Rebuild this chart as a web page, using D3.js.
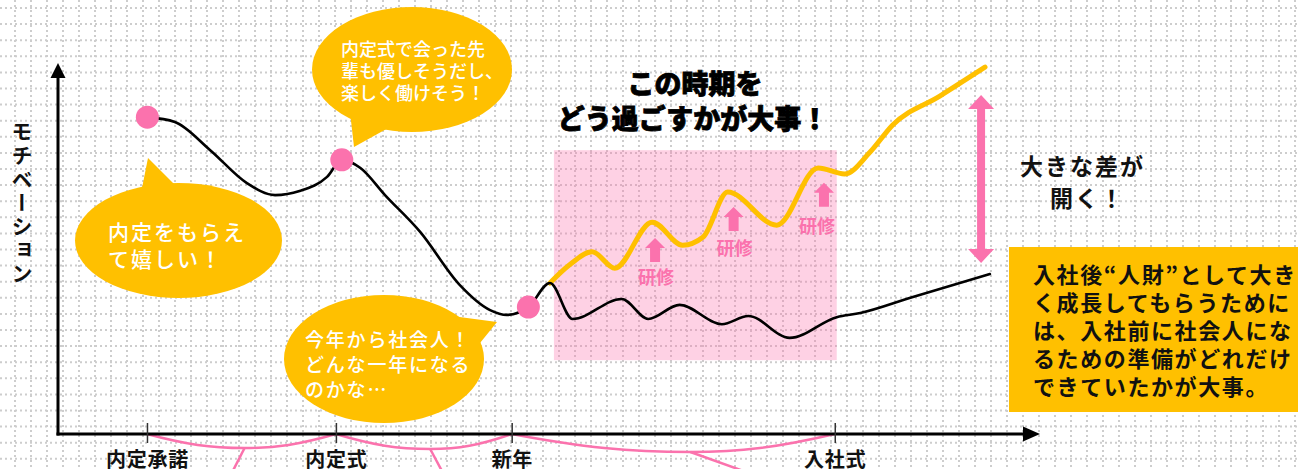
<!DOCTYPE html>
<html><head><meta charset="utf-8">
<script src="https://cdn.jsdelivr.net/npm/d3@7"></script>
<style>
html,body{margin:0;padding:0;background:#fff;}
svg{display:block;font-family:"Noto Sans CJK JP","Noto Sans",sans-serif;}
</style></head><body>
<svg id="c" width="1298" height="469"></svg>
<script>
// ---------- data ----------
const phaseLabels = ["内定承諾", "内定式", "新年", "入社式"];
const phaseTicks  = [9.06, 28.3, 46.2, 79.1];

// motivation without preparation (black)
const baseX = [9.1, 11.9, 15.5, 19.2, 22.1, 24.6, 27.4, 28.9, 30.8, 33.3, 36.9, 40.9, 44.0, 45.7, 47.9, 50.1, 52.4, 57.4, 60.1, 63.3, 67.6, 70.3, 74.5, 79.3, 81.7, 86.8, 94.9];
const baseY = [85.4, 84.1, 76.5, 67.7, 64.4, 65.5, 69.3, 73.9, 71.7, 64.4, 54.4, 40.2, 33.4, 32.1, 34.2, 40.7, 31.0, 36.4, 31.0, 34.8, 29.6, 31.8, 25.9, 31.5, 32.6, 36.7, 43.1];
const milestoneIdx = [0, 7, 14];

// motivation with training (yellow)
const growthX = [50.1, 52.1, 54.4, 56.7, 60.5, 63.6, 65.7, 68.2, 73.2, 77.4, 80.1, 82.7, 85.0, 89.8, 94.4];
const growthY = [40.7, 45.6, 49.1, 44.7, 57.1, 50.9, 53.1, 65.2, 56.3, 71.7, 70.1, 76.0, 83.3, 91.1, 98.9];

const trainingX = [60.8, 68.8, 78.0];
const trainingY = [52.8, 61.2, 67.7];
const trainingLabel = "研修";

const focusPeriod = [50.5, 79.3];
const focusRange  = [19.9, 76.5];
const gapX = 94.0;
const gapRange = [46.1, 91.4];

const braceLowX  = [19.0, 37.9, 64.4];
const braceLeadX = [17.8, 39.1, 69.8];

const yAxisTitle = "モチベーション";
const titleLines = ["この時期を", "どう過ごすかが大事！"];
const gapLines = ["大きな差が", "開く！"];
const boxLines = ["入社後“人財”として大き", "く成長してもらうために", "は、入社前に社会人にな", "るための準備がどれだけ", "できていたかが大事。"];
const bubble1 = ["内定をもらえ", "て嬉しい！"];
const bubble2 = ["内定式で会った先", "輩も優しそうだし、", "楽しく働けそう！"];
const bubble3 = ["今年から社会人！", "どんな一年になる", "のかな…"];

// ---------- setup ----------
const W = 1298, H = 469;
const PINK = "#fb72ad", YEL = "#ffc000";
const svg = d3.select("#c");
const x = d3.scaleLinear().domain([0, 100]).range([58, 1040]);
const y = d3.scaleLinear().domain([0, 100]).range([434, 63]);
const x0 = x(0), y0 = y(0);

// grid
const grid = svg.append("g").attr("stroke", "#cdcdcd").attr("stroke-width", 2).attr("stroke-dasharray", "2,3");
d3.range(15, W, 16).forEach(gx => grid.append("line").attr("x1", gx).attr("x2", gx).attr("y1", 0).attr("y2", H));
d3.range(0, 30).map(k => 8 + 16.1 * k).forEach(gy => grid.append("line").attr("x1", 0).attr("x2", W).attr("y1", gy).attr("y2", gy));

// focus rect
svg.append("rect")
  .attr("x", x(focusPeriod[0])).attr("width", x(focusPeriod[1]) - x(focusPeriod[0]))
  .attr("y", y(focusRange[1])).attr("height", y(focusRange[0]) - y(focusRange[1]))
  .attr("fill", PINK).attr("fill-opacity", 0.33);

// braces
const braceG = svg.append("g").attr("fill", "none").attr("stroke", PINK).attr("stroke-width", 2.5);
const depths = [14, 15, 18];
braceLowX.forEach((lx, i) => {
  const a = x(phaseTicks[i]), b = x(phaseTicks[i + 1]), m = x(lx), d = y0 + depths[i];
  const p = d3.path();
  p.moveTo(a, y0);
  p.bezierCurveTo(a + (m - a) * 0.4, y0 + depths[i] * 0.75, m - (m - a) * 0.35, d, m, d);
  p.bezierCurveTo(m + (b - m) * 0.35, d, b - (b - m) * 0.4, y0 + depths[i] * 0.75, b, y0);
  braceG.append("path").attr("d", p.toString());
  braceG.append("line").attr("x1", m).attr("y1", d).attr("x2", x(braceLeadX[i])).attr("y2", H + 2);
});

// axes
svg.append("line").attr("x1", x0).attr("x2", x0).attr("y1", y0 + 1.5).attr("y2", 76).attr("stroke", "#000").attr("stroke-width", 3);
svg.append("path").attr("d", `M${x0},${y(100)} L${x0 - 7.5},${y(100) + 15} L${x0 + 7.5},${y(100) + 15}Z`).attr("fill", "#000");
svg.append("line").attr("x1", x0 - 1.5).attr("x2", x(100) - 15).attr("y1", y0).attr("y2", y0).attr("stroke", "#000").attr("stroke-width", 3);
svg.append("path").attr("d", `M${x(100)},${y0} L${x(100) - 17},${y0 - 7.5} L${x(100) - 17},${y0 + 7.5}Z`).attr("fill", "#000");

const xAxis = d3.axisBottom(x).tickValues(phaseTicks).tickSize(9).tickPadding(4)
  .tickFormat((d, i) => phaseLabels[i]);
const ax = svg.append("g").attr("transform", `translate(0,${y0})`).call(xAxis);
ax.select(".domain").remove();
ax.selectAll(".tick line").attr("y1", -11).attr("stroke", "#333").attr("stroke-width", 1.5);
ax.selectAll(".tick text").attr("font-size", 20).attr("font-weight", 700).attr("fill", "#111")
  .attr("font-family", '"Noto Sans CJK JP",sans-serif')
  .attr("y", 24).attr("dy", 0).attr("dominant-baseline", "central").attr("letter-spacing", 0.8);

// y-axis title (vertical)
svg.append("text").text(yAxisTitle)
  .attr("x", 22).attr("y", 121)
  .style("writing-mode", "vertical-rl").style("text-orientation", "upright")
  .attr("font-size", 21).attr("font-weight", 700).attr("letter-spacing", 2.6).attr("fill", "#111");

// lines
const lineGen = d3.line().x(d => x(d[0])).y(d => y(d[1])).curve(d3.curveMonotoneX);
const growth = growthX.map((v, i) => [v, growthY[i]]);
const base = baseX.map((v, i) => [v, baseY[i]]);
svg.append("path").attr("d", lineGen(growth)).attr("fill", "none").attr("stroke", YEL).attr("stroke-width", 5).attr("stroke-linecap", "round");
svg.append("path").attr("d", lineGen(base)).attr("fill", "none").attr("stroke", "#000").attr("stroke-width", 2.6).attr("stroke-linecap", "round");

svg.append("g").selectAll("circle").data(milestoneIdx).join("circle")
  .attr("cx", i => x(baseX[i])).attr("cy", i => y(baseY[i])).attr("r", 11.5).attr("fill", PINK);

// training arrows
trainingX.forEach((tx, i) => {
  const cx = x(tx), ty = y(trainingY[i]);
  svg.append("path").attr("fill", PINK)
    .attr("d", `M${cx},${ty} L${cx + 10},${ty + 10} L${cx + 5},${ty + 10} L${cx + 5},${ty + 24} L${cx - 5},${ty + 24} L${cx - 5},${ty + 10} L${cx - 10},${ty + 10}Z`);
  svg.append("text").text(trainingLabel).attr("x", cx + (i === 2 ? -7 : 1)).attr("y", ty + 38 + i * 2)
    .attr("text-anchor", "middle").attr("dominant-baseline", "central")
    .attr("font-size", 18).attr("font-weight", 700).attr("fill", PINK);
});

// gap arrow
{
  const gx = x(gapX), t = y(gapRange[1]), b = y(gapRange[0]);
  svg.append("path").attr("fill", PINK)
    .attr("d", `M${gx},${t} L${gx + 13},${t + 14} L${gx + 4},${t + 14} L${gx + 4},${b - 14} L${gx + 13},${b - 14} L${gx},${b} L${gx - 13},${b - 14} L${gx - 4},${b - 14} L${gx - 4},${t + 14} L${gx - 13},${t + 14}Z`);
}

// text helper
function lines(arr, x1, yStart, dy, opts) {
  const t = svg.append("text").attr("font-size", opts.size).attr("font-weight", opts.weight || 700)
    .attr("fill", opts.fill || "#111").attr("letter-spacing", opts.ls || 0)
    .attr("text-anchor", opts.anchor || "start");
  if (opts.stroke) t.attr("stroke", opts.stroke).attr("stroke-width", opts.sw).attr("paint-order", "stroke");
  arr.forEach((s, i) => t.append("tspan").attr("x", Array.isArray(x1) ? x1[i] : x1)
    .attr("y", yStart + i * dy).attr("dominant-baseline", "central").text(s));
  return t;
}

// bubbles
function bubble(cx, cy, rx, ry, tail) {
  const g = svg.append("g").attr("fill", YEL);
  g.append("ellipse").attr("cx", cx).attr("cy", cy).attr("rx", rx).attr("ry", ry);
  g.append("path").attr("d", "M" + tail.map(p => p.join(",")).join("L") + "Z");
}
bubble(178.5, 240.5, 103.5, 57.5, [[148, 158], [140, 198], [182, 192]]);
lines(bubble1, 108, 231, 27, { size: 21, weight: 500, fill: "#fff", ls: 2 });

bubble(412, 69.5, 100, 62.5, [[354, 147], [350, 112], [390, 127]]);
lines(bubble2, 341, 48, 22, { size: 18, weight: 500, fill: "#fff", ls: 0 });

bubble(384, 359, 100, 64, [[497, 322], [452, 316], [476, 348]]);
lines(bubble3, 305, 338, 25, { size: 19, weight: 500, fill: "#fff", ls: 1.8 });

// title
lines(titleLines, [695, 693], 82, 35, { size: 27, weight: 900, anchor: "middle", fill: "#000", stroke: "#000", sw: 0.8 });

// gap text
lines(gapLines, [1020, 1050], 165, 32, { size: 23, weight: 700, ls: 2, fill: "#111" });

// box
svg.append("rect").attr("x", 1009).attr("y", 247).attr("width", W - 1009).attr("height", 165).attr("fill", YEL);
lines(boxLines, 1033, 273, 28, { size: 22, weight: 700, ls: 1.6, fill: "#111" });
</script>
</body></html>
